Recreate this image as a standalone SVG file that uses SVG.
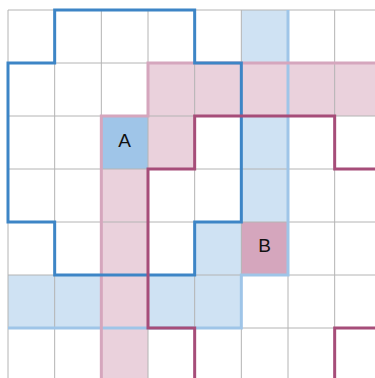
<svg xmlns="http://www.w3.org/2000/svg" width="375" height="378" viewBox="0 0 375 378">
<style>
.bl{fill:#cfe2f3}
.pk{fill:#ead1dc}
.grid{stroke:#b4b4b4;stroke-width:1;fill:none}
.lbl{stroke:#9fc5e8;stroke-width:3;fill:none}
.lpk{stroke:#d5a6bd;stroke-width:3;fill:none}
.dbl{stroke:#3d85c6;stroke-width:3;fill:none;stroke-linejoin:miter}
.dmr{stroke:#a64d79;stroke-width:3;fill:none;stroke-linejoin:miter}
.t{font-family:"Liberation Sans",Arial,sans-serif;font-size:19px;fill:#111;text-anchor:middle}
</style>
<rect width="375" height="378" fill="#fff"/>
<g id="fills">
<rect class="bl" x="241.33" y="10" width="46.67" height="265"/>
<rect class="bl" x="194.67" y="222" width="46.67" height="106"/>
<rect class="bl" x="8" y="275" width="233.33" height="53"/>
<rect class="pk" x="148" y="63" width="227" height="53"/>
<rect class="pk" x="148" y="116" width="46.67" height="53"/>
<rect class="pk" x="101.33" y="169" width="46.67" height="209"/>
</g>
<g id="A">
<rect x="101.33" y="116" width="46.67" height="53" fill="#9fc5e8"/>
<text class="t" x="124.67" y="146.5">A</text>
</g>
<g id="B">
<rect x="241.33" y="222" width="46.67" height="53" fill="#d5a6bd"/>
<text class="t" x="264.67" y="252">B</text>
</g>
<g id="grid" class="grid">
<path d="M8 10V378M54.67 10V378M101.33 10V378M148 10V378M194.67 10V378M241.33 10V378M288 10V378M334.67 10V378"/>
<path d="M8 10H375M8 63H375M8 116H375M8 169H375M8 222H375M8 275H375M8 328H375"/>
</g>
<g id="connectors">
<path class="lbl" d="M288 10V275H241.33V328H8"/>
<path class="lpk" d="M375 63H148V116H101.33V378"/>
<path class="dbl" d="M54.67 10H194.67V63H241.33V222H194.67V275H54.67V222H8V63H54.67Z"/>
<path class="dmr" d="M375 169H334.67V116H194.67V169H148V328H194.67V378"/>
<path class="dmr" d="M375 328H334.67V378"/>
</g>
</svg>
